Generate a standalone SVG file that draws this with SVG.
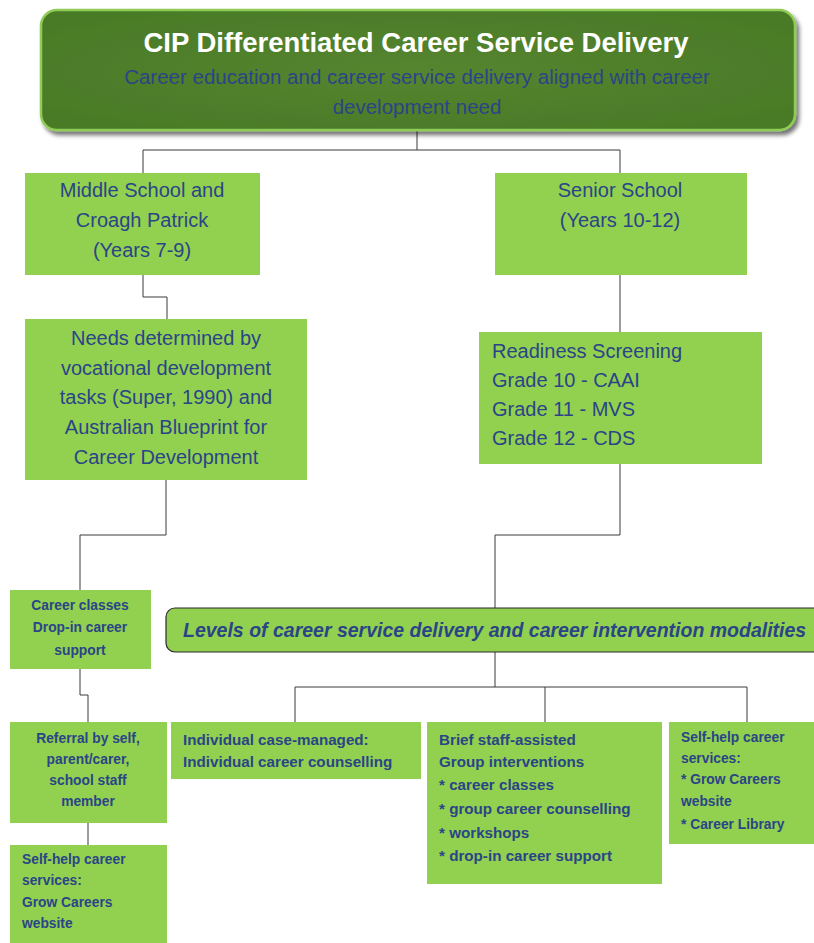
<svg xmlns="http://www.w3.org/2000/svg" width="814" height="943" viewBox="0 0 814 943">
<style>
.box{fill:#92d050;}
.ln{fill:none;stroke:#3a3a3a;stroke-width:1;}
.t{font-family:"Liberation Sans",Arial,sans-serif;fill:#2a4586;}
.reg{font-size:20px;}
.sm{font-size:13.8px;font-weight:bold;}
.md{font-size:15.2px;font-weight:bold;}
.c{text-anchor:middle;}
</style>
<defs>
<filter id="sh" x="-5%" y="-10%" width="112%" height="130%">
<feDropShadow dx="3" dy="4" stdDeviation="2" flood-color="#000" flood-opacity="0.55"/>
</filter>
<radialGradient id="tg" cx="50%" cy="50%" r="60%">
<stop offset="0" stop-color="#55852f"/>
<stop offset="1" stop-color="#4a7a27"/>
</radialGradient>
</defs>
<rect width="814" height="943" fill="#fff"/>
<g id="connectors">
<polyline class="ln" points="417,130 417,150"/>
<polyline class="ln" points="143,173 143,150 620,150 620,173"/>
<polyline class="ln" points="143,275 143,297 167,297 167,319"/>
<polyline class="ln" points="620,275 620,332"/>
<polyline class="ln" points="166,480 166,535 80,535 80,590"/>
<polyline class="ln" points="80,669 80,695 88,695 88,722"/>
<polyline class="ln" points="88,823 88,845"/>
<polyline class="ln" points="620,464 620,535 495,535 495,608"/>
<polyline class="ln" points="495,652 495,687"/>
<polyline class="ln" points="295,722 295,687 747,687 747,722"/>
<polyline class="ln" points="545,687 545,722"/>
</g>
<g id="top">
<rect x="41" y="10" width="754" height="120" rx="16" fill="url(#tg)" stroke="#8fcc55" stroke-width="2.5" filter="url(#sh)"/>
<text x="416" y="52" class="c" font-family="Liberation Sans,Arial,sans-serif" font-size="27.5" font-weight="bold" fill="#ffffff">CIP Differentiated Career Service Delivery</text>
<text x="417" y="84" class="t c" font-size="20.5">Career education and career service delivery aligned with career</text>
<text x="417" y="114" class="t c" font-size="20.5">development need</text>
</g>
<g id="middle">
<rect class="box" x="25" y="173" width="235" height="102"/>
<text class="t reg c" x="142" y="197">Middle School and</text>
<text class="t reg c" x="142" y="227">Croagh Patrick</text>
<text class="t reg c" x="142" y="257">(Years 7-9)</text>
</g>
<g id="senior">
<rect class="box" x="495" y="173" width="252" height="102"/>
<text class="t reg c" x="620" y="197">Senior School</text>
<text class="t reg c" x="620" y="227">(Years 10-12)</text>
</g>
<g id="needs">
<rect class="box" x="25" y="319" width="282" height="161"/>
<text class="t reg c" x="166" y="345">Needs determined by</text>
<text class="t reg c" x="166" y="375">vocational development</text>
<text class="t reg c" x="166" y="404">tasks (Super, 1990) and</text>
<text class="t reg c" x="166" y="434">Australian Blueprint for</text>
<text class="t reg c" x="166" y="464">Career Development</text>
</g>
<g id="readiness">
<rect class="box" x="479" y="332" width="283" height="132"/>
<text class="t reg" x="492" y="358">Readiness Screening</text>
<text class="t reg" x="492" y="387">Grade 10 - CAAI</text>
<text class="t reg" x="492" y="416">Grade 11 - MVS</text>
<text class="t reg" x="492" y="445">Grade 12 - CDS</text>
</g>
<g id="career-classes">
<rect class="box" x="10" y="590" width="141" height="79"/>
<text class="t sm c" x="80" y="610">Career classes</text>
<text class="t sm c" x="80" y="632">Drop-in career</text>
<text class="t sm c" x="80" y="655">support</text>
</g>
<g id="levels">
<rect x="166" y="608" width="660" height="44" rx="9" fill="#92d050" stroke="#2b2b2b" stroke-width="1.2"/>
<text class="t" x="183" y="637" font-size="19.5" font-weight="bold" font-style="italic">Levels of career service delivery and career intervention modalities</text>
</g>
<g id="referral">
<rect class="box" x="10" y="722" width="157" height="101"/>
<text class="t sm c" x="88" y="743">Referral by self,</text>
<text class="t sm c" x="88" y="764">parent/carer,</text>
<text class="t sm c" x="88" y="785">school staff</text>
<text class="t sm c" x="88" y="806">member</text>
</g>
<g id="selfhelp-left">
<rect class="box" x="10" y="845" width="157" height="98"/>
<text class="t sm" x="22" y="864">Self-help career</text>
<text class="t sm" x="22" y="885">services:</text>
<text class="t sm" x="22" y="907">Grow Careers</text>
<text class="t sm" x="22" y="928">website</text>
</g>
<g id="individual">
<rect class="box" x="171" y="722" width="250" height="57"/>
<text class="t md" x="183" y="745">Individual case-managed:</text>
<text class="t md" x="183" y="767">Individual career counselling</text>
</g>
<g id="brief">
<rect class="box" x="427" y="722" width="235" height="162"/>
<text class="t md" x="439" y="745">Brief staff-assisted</text>
<text class="t md" x="439" y="767">Group interventions</text>
<text class="t md" x="439" y="790">* career classes</text>
<text class="t md" x="439" y="814">* group career counselling</text>
<text class="t md" x="439" y="838">* workshops</text>
<text class="t md" x="439" y="861">* drop-in career support</text>
</g>
<g id="selfhelp-right">
<rect class="box" x="669" y="722" width="145" height="122"/>
<text class="t sm" x="681" y="742">Self-help career</text>
<text class="t sm" x="681" y="763">services:</text>
<text class="t sm" x="681" y="784">* Grow Careers</text>
<text class="t sm" x="681" y="806">website</text>
<text class="t sm" x="681" y="829">* Career Library</text>
</g>
</svg>
